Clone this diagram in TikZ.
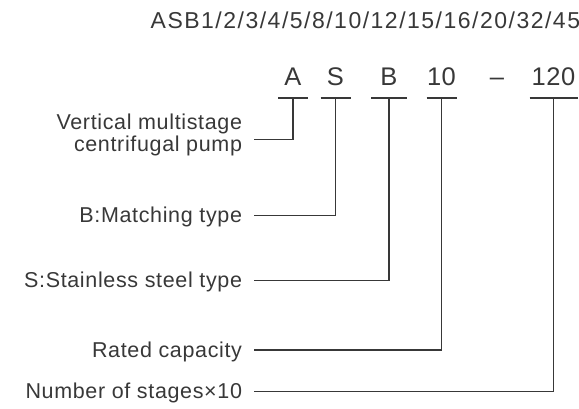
\documentclass[tikz,border=0pt]{standalone}
\usepackage{fontspec}
\setmainfont{Liberation Sans}
\newfontfamily\titlefamily[LetterSpace=6.5]{Liberation Sans}
\newfontfamily\codefamily[LetterSpace=2]{Liberation Sans}
\newfontfamily\labfamily[LetterSpace=3]{Liberation Sans}
\usetikzlibrary{positioning}
\definecolor{inkgray}{HTML}{383838}

\begin{document}
\begin{tikzpicture}
[x=1pt,y=1pt,
 every node/.style={inner sep=0pt,outer sep=0pt,text=inkgray},
 code/.style={font=\codefamily\fontsize{25.5}{28}\selectfont,text height=18pt,text depth=12pt},
 lab/.style={font=\labfamily\fontsize{21.5}{21.7}\selectfont,anchor=base east,align=right},
 bar/.style={draw=inkgray,line width=1.1pt},
 link/.style={draw=inkgray,line width=1.1pt,shorten <=12pt}]
\useasboundingbox (0,0) rectangle (579,408);
\node[font=\titlefamily\fontsize{23}{25}\selectfont,anchor=base west] (title) at (150.7,379.7) {ASB1/2/3/4/5/8/10/12/15/16/20/32/45};
% model code
\node[code,minimum width=30pt] (cA)                                  at (293,325) {A};
\node[code,minimum width=30pt] (cS)   [on grid,right=42.5pt of cA]   {S};
\node[code,minimum width=36pt] (cB)   [on grid,right=53.5pt of cS]   {B};
\node[code,minimum width=30pt] (c10)  [on grid,right=52.5pt of cB]   {10};
\node[code]                    (cDash)[on grid,right=55.5pt of c10]  {–};
\node[code,minimum width=48pt] (c120) [on grid,right=56.5pt of cDash]{120};
\foreach \c in {cA,cS,cB,c10,c120}
  \draw[bar] (\c.south west) -- (\c.south east);
% meanings
\node[lab] (lA) at (242,256.3) {Vertical multistage\\centrifugal pump};
\node[lab] (lB) at (242,185.5) {B:Matching type};
\node[lab] (lS) at (242,120.7) {S:Stainless steel type};
\node[lab] (lR) at (242,51)    {Rated capacity};
\node[lab] (lN) at (242,9.7)   {Number of stages×10};
\draw[link] ([yshift=12.4pt]lA.base east) -| (cA.south);
\draw[link] ([yshift=7pt]lB.base east)    -| (cS.south);
\draw[link] ([yshift=7pt]lS.base east)    -| (cB.south);
\draw[link] ([yshift=7pt]lR.base east)    -| (c10.south);
\draw[link] ([yshift=7pt]lN.base east)    -| (c120.south);
\end{tikzpicture}
\end{document}
